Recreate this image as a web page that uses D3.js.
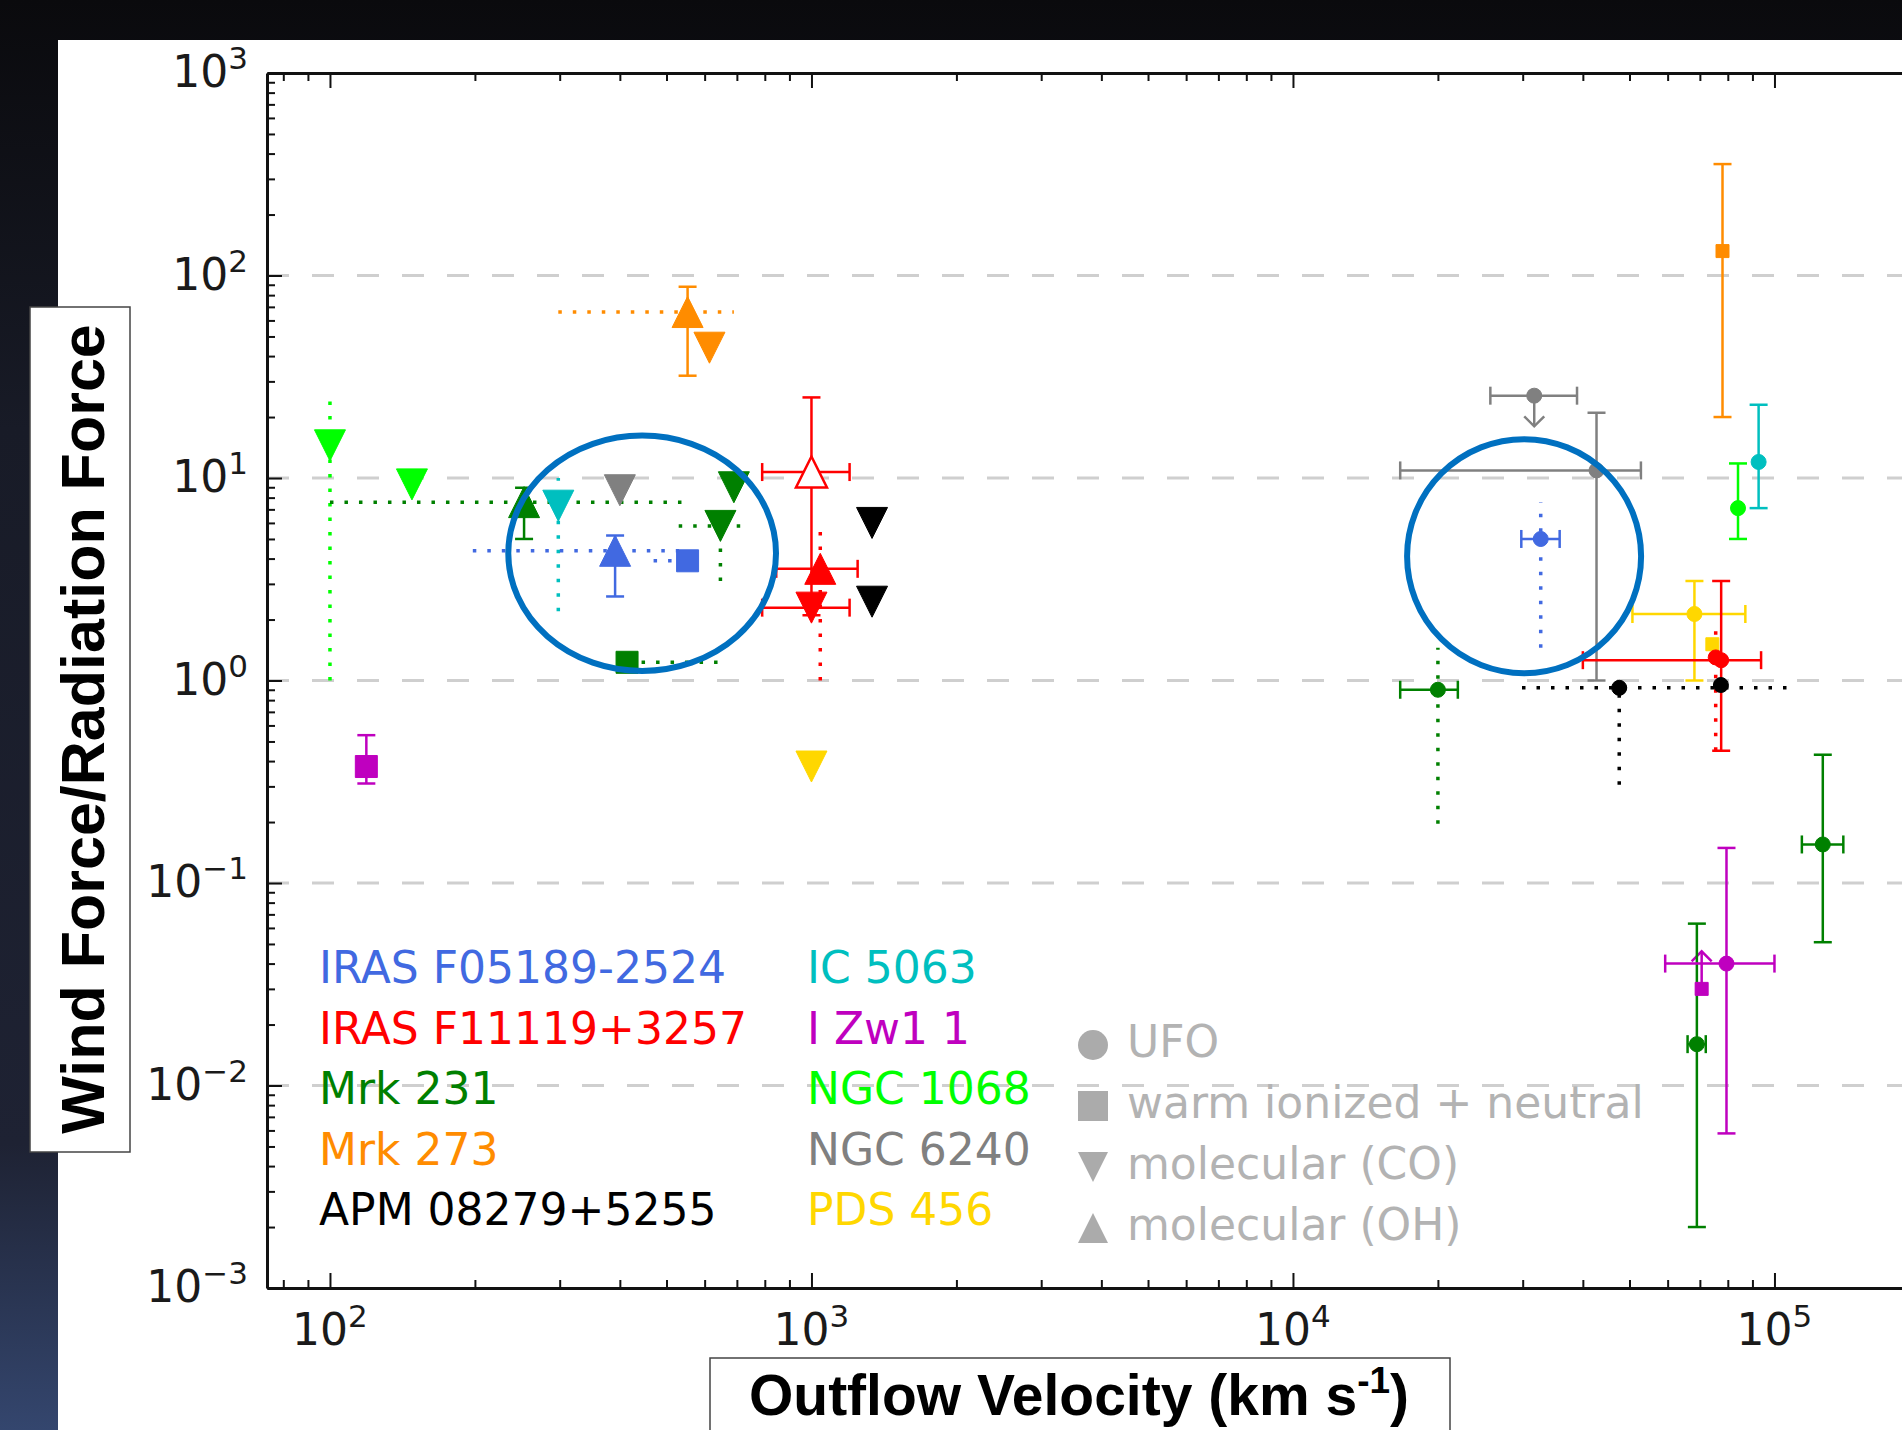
<!DOCTYPE html>
<meta charset="utf-8">

<head>
  <style>
    body {
      margin: 0;
      background: #0c0d12;
    }

    svg {
      display: block;
    }

    text {
      font-family: "DejaVu Sans", sans-serif;
    }

    .boxlabel {
      font-family: "Liberation Sans", Arial, sans-serif;
      font-weight: bold;
      fill: #000;
    }
  </style>
</head>

<body>
  <script src="https://d3js.org/d3.v7.min.js"></script>

  <div id="chart"></div>

  <script>

    var width = 1902,
      height = 1430;

    // sources in legend order, with their colours
    var sources = ["IRAS F05189-2524", "IRAS F11119+3257", "Mrk 231", "Mrk 273", "APM 08279+5255",
      "IC 5063", "I Zw1 1", "NGC 1068", "NGC 6240", "PDS 456"];
    var sourceColors = ["#4169e1", "#ff0000", "#008000", "#ff8c00", "#000000",
      "#00bfbf", "#bf00bf", "#00ff00", "#808080", "#ffd700"];

    // gas phases (marker legend)
    var phases = ["UFO", "warm ionized + neutral", "molecular (CO)", "molecular (OH)"];
    var phaseShapes = ["circle", "square", "down", "up"];

    // tick exponents
    var xTickExps = [2, 3, 4, 5];
    var yTickExps = [-3, -2, -1, 0, 1, 2, 3];
    var gridExps = [-2, -1, 0, 1, 2];

    // v = outflow velocity (km/s), f = wind force / radiation force
    // xe / ye = error range, xs / ys = "bar" (solid with caps) or "dot" (dotted)
    var coPoints = [
      { s: "NGC 1068", v: 100, f: 14.5, ye: [1.0, 26], ys: "dot" },
      { s: "NGC 1068", v: 148, f: 9.3 },
      { s: "IC 5063", v: 298, f: 7.3, ye: [2.2, 10], ys: "dot" },
      { s: "NGC 6240", v: 400, f: 8.7 },
      { s: "Mrk 231", v: 690, f: 9.0 },
      { s: "Mrk 231", v: 647, f: 5.8, xe: [530, 730], xs: "dot", ye: [3.1, 5.8], ys: "dot" },
      { s: "Mrk 273", v: 614, f: 44 },
      { s: "IRAS F11119+3257", v: 1000, f: 2.29, xe: [790, 1200], xs: "bar" },
      { s: "APM 08279+5255", v: 1336, f: 6.0 },
      { s: "APM 08279+5255", v: 1336, f: 2.45 },
      { s: "PDS 456", v: 1000, f: 0.376 }
    ];

    var ohPoints = [
      { s: "Mrk 231", v: 253, f: 7.6, xe: [100, 560], xs: "dot", ye: [5.0, 8.95], ys: "bar" },
      { s: "IRAS F05189-2524", v: 391, f: 4.37, xe: [198, 531], xs: "dot", ye: [2.6, 5.2], ys: "bar" },
      { s: "Mrk 273", v: 553, f: 66, xe: [298, 690], xs: "dot", ye: [32, 88], ys: "bar" },
      { s: "IRAS F11119+3257", v: 1000, f: 10.7, xe: [790, 1200], xs: "bar", ye: [2.1, 25], ys: "bar", open: true },
      { s: "IRAS F11119+3257", v: 1043, f: 3.56, xe: [845, 1247], xs: "bar", ye: [1.0, 6.1], ys: "dot" }
    ];

    var ionizedPoints = [
      { s: "IRAS F05189-2524", v: 553, f: 3.9, xe: [470, 553], xs: "dot" },
      { s: "Mrk 231", v: 414, f: 1.23, xe: [414, 650], xs: "dot" },
      { s: "I Zw1 1", v: 119, f: 0.376, ye: [0.31, 0.537], ys: "bar" }
    ];

    // small square markers among the UFOs
    var ionizedUfoPoints = [
      { s: "Mrk 273", v: 78000, f: 132, ye: [20, 355], ys: "bar" },
      { s: "PDS 456", v: 74300, f: 1.51 },
      { s: "I Zw1 1", v: 70600, f: 0.030, lim: 0.046 }
    ];

    var ufoPoints = [
      { s: "NGC 6240", v: 31700, f: 25.5, xe: [25700, 38900], xs: "bar", lim: 18 },
      { s: "NGC 6240", v: 42700, f: 10.9, xe: [16700, 52800], xs: "bar", ye: [1.0, 21], ys: "bar" },
      { s: "IRAS F05189-2524", v: 32700, f: 5.0, xe: [29800, 35800], xs: "bar", ye: [1.45, 7.6], ys: "dot" },
      { s: "Mrk 231", v: 20000, f: 0.9, xe: [16700, 22000], xs: "bar", ye: [0.196, 1.45], ys: "dot" },
      { s: "APM 08279+5255", v: 47600, f: 0.92, xe: [29900, 107000], xs: "dot", ye: [0.306, 0.92], ys: "dot" },
      { s: "APM 08279+5255", v: 77400, f: 0.95 },
      { s: "PDS 456", v: 68200, f: 2.13, xe: [50700, 87000], xs: "bar", ye: [1.0, 3.1], ys: "bar" },
      { s: "IRAS F11119+3257", v: 75500, f: 1.3, ye: [0.45, 1.8], ys: "dot" },
      { s: "IRAS F11119+3257", v: 77500, f: 1.26, xe: [40000, 93800], xs: "bar", ye: [0.45, 3.1], ys: "bar" },
      { s: "IC 5063", v: 92700, f: 12, ye: [7.1, 23], ys: "bar" },
      { s: "NGC 1068", v: 84000, f: 7.1, ye: [5.0, 11.8], ys: "bar" },
      { s: "Mrk 231", v: 126000, f: 0.155, xe: [114000, 139000], xs: "bar", ye: [0.051, 0.43], ys: "bar" },
      { s: "Mrk 231", v: 69000, f: 0.016, xe: [66000, 72000], xs: "bar", ye: [0.002, 0.063], ys: "bar" },
      { s: "I Zw1 1", v: 79500, f: 0.040, xe: [59300, 100000], xs: "bar", ye: [0.0058, 0.149], ys: "bar" }
    ];

    // circled regions: centre (v, f) and half-size in decades
    var circled = [
      { v: 445, f: 4.25, dv: 0.278, df: 0.581 },
      { v: 30200, f: 4.11, dv: 0.243, df: 0.578 }
    ];

    var color = d3.scaleOrdinal().domain(sources).range(sourceColors);

    var xMin = 74, xMax = 2e5;
    var x = d3.scaleLog().domain([xMin, xMax]).range([267, 267 + 481.5 * Math.log10(xMax / xMin)]);
    var y = d3.scaleLog().domain([1e-3, 1e3]).range([1288, 73]);

    var svg = d3.select('#chart')
      .append('svg')
      .attr('width', width)
      .attr('height', height);

    // slide backdrop
    var grad = svg.append('defs').append('linearGradient')
      .attr('id', 'bg').attr('x1', 0).attr('y1', 0).attr('x2', 0).attr('y2', 1);
    grad.append('stop').attr('offset', '0%').attr('stop-color', '#0a0a0d');
    grad.append('stop').attr('offset', '30%').attr('stop-color', '#181b27');
    grad.append('stop').attr('offset', '80%').attr('stop-color', '#1e2233');
    grad.append('stop').attr('offset', '100%').attr('stop-color', '#34466e');
    svg.append('rect').attr('width', width).attr('height', height).attr('fill', 'url(#bg)');
    svg.append('rect').attr('x', 58).attr('y', 40)
      .attr('width', width - 58).attr('height', height - 40).attr('fill', '#fff');

    var g = svg.append('g');

    // dashed grid at each decade
    g.selectAll('.grid').data(gridExps).enter().append('line')
      .attr('x1', x(xMin)).attr('x2', x(xMax))
      .attr('y1', e => y(Math.pow(10, e))).attr('y2', e => y(Math.pow(10, e)))
      .attr('stroke', '#cfcfcf').attr('stroke-width', 3).attr('stroke-dasharray', '22 23');

    // axes with inward ticks
    var xMajor = xTickExps.map(e => Math.pow(10, e));
    var yMajor = yTickExps.map(e => Math.pow(10, e));
    var xMinor = [], yMinor = [];
    for (var e = 1; e <= 5; e++) for (var m = 2; m <= 9; m++) {
      var v = m * Math.pow(10, e);
      if (v > xMin && v < xMax) xMinor.push(v);
    }
    for (var e = -3; e < 3; e++) for (var m = 2; m <= 9; m++) yMinor.push(m * Math.pow(10, e));

    function addAxis(axis, tx, ty, keepDomain) {
      var a = g.append('g').attr('transform', 'translate(' + tx + ',' + ty + ')').call(axis);
      a.selectAll('.tick line').attr('stroke', '#111').attr('stroke-width', 2);
      if (keepDomain) a.select('.domain').attr('stroke', '#111').attr('stroke-width', 3);
      else a.select('.domain').remove();
    }
    var yBottom = y(1e-3), yTop = y(1e3), xLeft = x(xMin);
    addAxis(d3.axisBottom(x).tickValues(xMajor).tickSizeInner(-15).tickSizeOuter(0).tickFormat(''), 0, yBottom, true);
    addAxis(d3.axisBottom(x).tickValues(xMinor).tickSizeInner(-8).tickSizeOuter(0).tickFormat(''), 0, yBottom, false);
    addAxis(d3.axisTop(x).tickValues(xMajor).tickSizeInner(-15).tickSizeOuter(0).tickFormat(''), 0, yTop, true);
    addAxis(d3.axisTop(x).tickValues(xMinor).tickSizeInner(-8).tickSizeOuter(0).tickFormat(''), 0, yTop, false);
    addAxis(d3.axisLeft(y).tickValues(yMajor).tickSizeInner(-15).tickSizeOuter(0).tickFormat(''), xLeft, 0, true);
    addAxis(d3.axisLeft(y).tickValues(yMinor).tickSizeInner(-8).tickSizeOuter(0).tickFormat(''), xLeft, 0, false);

    function expText(e) { return e < 0 ? '\u2212' + (-e) : '' + e; }
    function powerLabel(sel) {
      sel.each(function (e) {
        var t = d3.select(this);
        t.append('tspan').text('10');
        t.append('tspan').attr('dy', -18).attr('font-size', 31).text(expText(e));
      });
    }

    g.selectAll('.xlab').data(xTickExps).enter().append('text')
      .attr('x', e => x(Math.pow(10, e))).attr('y', yBottom + 57)
      .attr('text-anchor', 'middle').attr('font-size', 44).attr('fill', '#1a1a1a')
      .call(powerLabel);

    g.selectAll('.ylab').data(yTickExps).enter().append('text')
      .attr('x', xLeft - 19).attr('y', e => y(Math.pow(10, e)) + 14)
      .attr('text-anchor', 'end').attr('font-size', 44).attr('fill', '#1a1a1a')
      .call(powerLabel);

    // error bars, limits and markers
    var cap = 9;

    function errLine(sel, x1, y1, x2, y2, style, c) {
      var l = sel.append('line').attr('x1', x1).attr('y1', y1).attr('x2', x2).attr('y2', y2)
        .attr('stroke', c);
      if (style === 'dot') l.attr('stroke-width', 3.5).attr('stroke-dasharray', '3.5 11');
      else l.attr('stroke-width', 2.5);
    }

    function drawErrors(data) {
      data.forEach(function (d) {
        var c = color(d.s), cx = x(d.v), cy = y(d.f);
        var eg = g.append('g');
        if (d.xe) {
          var a = x(d.xe[0]), b = x(d.xe[1]);
          errLine(eg, a, cy, b, cy, d.xs, c);
          if (d.xs === 'bar') {
            errLine(eg, a, cy - cap, a, cy + cap, 'bar', c);
            errLine(eg, b, cy - cap, b, cy + cap, 'bar', c);
          }
        }
        if (d.ye) {
          var lo = y(d.ye[0]), hi = y(d.ye[1]);
          errLine(eg, cx, lo, cx, hi, d.ys, c);
          if (d.ys === 'bar') {
            errLine(eg, cx - cap, lo, cx + cap, lo, 'bar', c);
            errLine(eg, cx - cap, hi, cx + cap, hi, 'bar', c);
          }
        }
        if (d.lim) {
          var tip = y(d.lim), dir = tip > cy ? -1 : 1;
          errLine(eg, cx, cy, cx, tip, 'bar', c);
          eg.append('path')
            .attr('d', 'M' + (cx - 10) + ',' + (tip + dir * 10) + 'L' + cx + ',' + tip + 'L' + (cx + 10) + ',' + (tip + dir * 10))
            .attr('fill', 'none').attr('stroke', c).attr('stroke-width', 2.5);
        }
      });
    }

    function shapePath(shape, s) {
      if (shape === 'down') return 'M' + (-s) + ',' + (-s) + 'L' + s + ',' + (-s) + 'L0,' + s + 'Z';
      if (shape === 'up') return 'M0,' + (-s) + 'L' + s + ',' + s + 'L' + (-s) + ',' + s + 'Z';
      if (shape === 'square') return 'M' + (-s) + ',' + (-s) + 'h' + (2 * s) + 'v' + (2 * s) + 'h' + (-2 * s) + 'Z';
      return d3.arc()({ innerRadius: 0, outerRadius: s, startAngle: 0, endAngle: 2 * Math.PI });
    }

    function drawMarkers(data, shape, size) {
      g.selectAll(null).data(data).enter().append('path')
        .attr('transform', d => 'translate(' + x(d.v) + ',' + y(d.f) + ')')
        .attr('d', shapePath(shape, size))
        .attr('fill', d => d.open ? '#fff' : color(d.s))
        .attr('stroke', d => color(d.s))
        .attr('stroke-width', d => d.open ? 2.5 : 1);
    }

    [coPoints, ohPoints, ionizedPoints, ionizedUfoPoints, ufoPoints].forEach(drawErrors);
    drawMarkers(coPoints, 'down', 15.5);
    drawMarkers(ohPoints, 'up', 15.5);
    drawMarkers(ionizedPoints, 'square', 11);
    drawMarkers(ionizedUfoPoints, 'square', 6.5);
    drawMarkers(ufoPoints, 'circle', 7.5);

    // source legend (two columns of coloured names)
    g.selectAll('.src').data(sources).enter().append('text')
      .attr('x', (d, i) => i < 5 ? 319 : 807)
      .attr('y', (d, i) => 983 + (i % 5) * 60.5)
      .attr('font-size', 44)
      .attr('fill', d => color(d))
      .text(d => d);

    // phase legend (grey markers)
    var pg = g.selectAll('.phase').data(phases).enter().append('g')
      .attr('transform', (d, i) => 'translate(1093,' + (1057 + i * 61) + ')');
    pg.append('path')
      .attr('transform', 'translate(0,-12)')
      .attr('d', (d, i) => shapePath(phaseShapes[i], 15))
      .attr('fill', '#ababab');
    pg.append('text')
      .attr('x', 34).attr('font-size', 44).attr('fill', '#b3b3b3')
      .text(d => d);

    // circled regions
    g.selectAll('.ring').data(circled).enter().append('ellipse')
      .attr('cx', d => x(d.v)).attr('cy', d => y(d.f))
      .attr('rx', d => x(d.v * Math.pow(10, d.dv)) - x(d.v))
      .attr('ry', d => y(d.f) - y(d.f * Math.pow(10, d.df)))
      .attr('fill', 'none').attr('stroke', '#0070c0').attr('stroke-width', 6);

    // axis titles in framed boxes
    svg.append('rect').attr('x', 30).attr('y', 307).attr('width', 100).attr('height', 845)
      .attr('fill', '#fff').attr('stroke', '#444').attr('stroke-width', 1.5);
    svg.append('text').attr('class', 'boxlabel')
      .attr('transform', 'translate(104,729) rotate(-90)')
      .attr('text-anchor', 'middle').attr('font-size', 61)
      .text('Wind Force/Radiation Force');

    svg.append('rect').attr('x', 710).attr('y', 1358).attr('width', 740).attr('height', 100)
      .attr('fill', '#fff').attr('stroke', '#444').attr('stroke-width', 1.5);
    var xt = svg.append('text').attr('class', 'boxlabel')
      .attr('x', 1079).attr('y', 1415).attr('text-anchor', 'middle').attr('font-size', 57);
    xt.append('tspan').text('Outflow Velocity (km s');
    xt.append('tspan').attr('dy', -22).attr('font-size', 37).text('-1');
    xt.append('tspan').attr('dy', 22).text(')');

  </script>
</body>
